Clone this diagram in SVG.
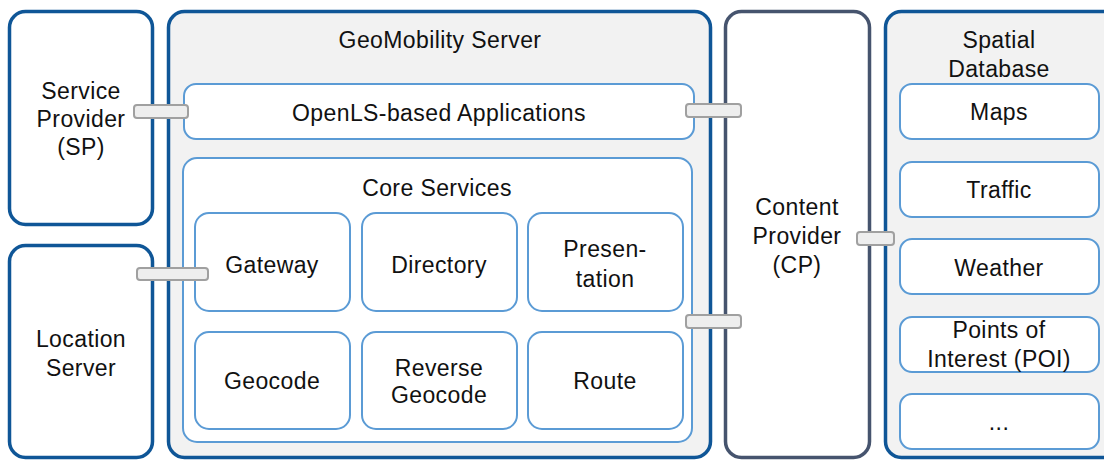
<svg xmlns="http://www.w3.org/2000/svg" width="1104" height="460" viewBox="0 0 1104 460">
  <style>
    text { font-family: "Liberation Sans", Arial, sans-serif; font-size: 23px; letter-spacing: 0.4px; fill: #111; text-anchor: middle; }
    .outer { fill: #ffffff; stroke: #0f5697; stroke-width: 3.5; }
    .outer.grey { fill: #f2f2f2; }
    .cp { fill: #ffffff; stroke: #46546e; stroke-width: 3.5; }
    .inner { fill: #ffffff; stroke: #5b9bd5; stroke-width: 2; }
    .link { fill: #eeeeee; stroke: #a0a0a0; stroke-width: 2; }
  </style>

  <!-- Service Provider -->
  <g id="service-provider">
    <rect class="outer" x="9.5" y="11.5" width="143" height="213" rx="16"/>
    <text x="81" y="99">Service</text>
    <text x="81" y="127">Provider</text>
    <text x="81" y="155">(SP)</text>
  </g>

  <!-- Location Server -->
  <g id="location-server">
    <rect class="outer" x="9.5" y="245.5" width="143" height="212" rx="16"/>
    <text x="81" y="347">Location</text>
    <text x="81" y="376">Server</text>
  </g>

  <!-- GeoMobility Server with its applications and core services -->
  <g id="geomobility-server">
    <rect class="outer grey" x="168.5" y="11.5" width="542" height="446" rx="16"/>
    <text x="440" y="48">GeoMobility Server</text>
  </g>
  <g id="openls-applications">
    <rect class="inner" x="184" y="84" width="510" height="55" rx="12"/>
    <text x="439" y="121">OpenLS-based Applications</text>
  </g>
  <g id="core-services">
    <rect class="inner" x="183" y="158" width="509" height="284" rx="14"/>
    <text x="437" y="196">Core Services</text>
  </g>
  <g id="gateway">
    <rect class="inner" x="195" y="213" width="155" height="98" rx="14"/>
    <text x="272" y="273">Gateway</text>
  </g>
  <g id="directory">
    <rect class="inner" x="362" y="213" width="155" height="98" rx="14"/>
    <text x="439" y="273">Directory</text>
  </g>
  <g id="presentation">
    <rect class="inner" x="528" y="213" width="155" height="98" rx="14"/>
    <text x="605" y="257">Presen-</text>
    <text x="605" y="287">tation</text>
  </g>
  <g id="geocode">
    <rect class="inner" x="195" y="332" width="155" height="97" rx="14"/>
    <text x="272" y="389">Geocode</text>
  </g>
  <g id="reverse-geocode">
    <rect class="inner" x="362" y="332" width="155" height="97" rx="14"/>
    <text x="439" y="376">Reverse</text>
    <text x="439" y="403">Geocode</text>
  </g>
  <g id="route">
    <rect class="inner" x="528" y="332" width="155" height="97" rx="14"/>
    <text x="605" y="389">Route</text>
  </g>

  <!-- Content Provider -->
  <g id="content-provider">
    <rect class="cp" x="725.5" y="11.5" width="144" height="446" rx="16"/>
    <text x="797" y="215">Content</text>
    <text x="797" y="244">Provider</text>
    <text x="797" y="273">(CP)</text>
  </g>

  <!-- Spatial Database and its data sets -->
  <g id="spatial-database">
    <rect class="outer grey" x="885.5" y="11.5" width="240" height="446" rx="16"/>
    <text x="999" y="48">Spatial</text>
    <text x="999" y="77">Database</text>
  </g>
  <g id="maps">
    <rect class="inner" x="900" y="84" width="199" height="55" rx="12"/>
    <text x="999" y="120">Maps</text>
  </g>
  <g id="traffic">
    <rect class="inner" x="900" y="162" width="199" height="55" rx="12"/>
    <text x="999" y="198">Traffic</text>
  </g>
  <g id="weather">
    <rect class="inner" x="900" y="239" width="199" height="55" rx="12"/>
    <text x="999" y="276">Weather</text>
  </g>
  <g id="poi">
    <rect class="inner" x="900" y="317" width="199" height="55" rx="12"/>
    <text x="999" y="338">Points of</text>
    <text x="999" y="367">Interest (POI)</text>
  </g>
  <g id="more">
    <rect class="inner" x="900" y="394" width="199" height="55" rx="12"/>
    <text x="999" y="430">...</text>
  </g>

  <!-- Interface connectors -->
  <g id="connectors">
    <rect class="link" x="134" y="105" width="54" height="13" rx="3"/>
    <rect class="link" x="137" y="268" width="71" height="12" rx="3"/>
    <rect class="link" x="686" y="104" width="55" height="13" rx="3"/>
    <rect class="link" x="686" y="315" width="55" height="13" rx="3"/>
    <rect class="link" x="857" y="232" width="37" height="13" rx="3"/>
  </g>
</svg>
